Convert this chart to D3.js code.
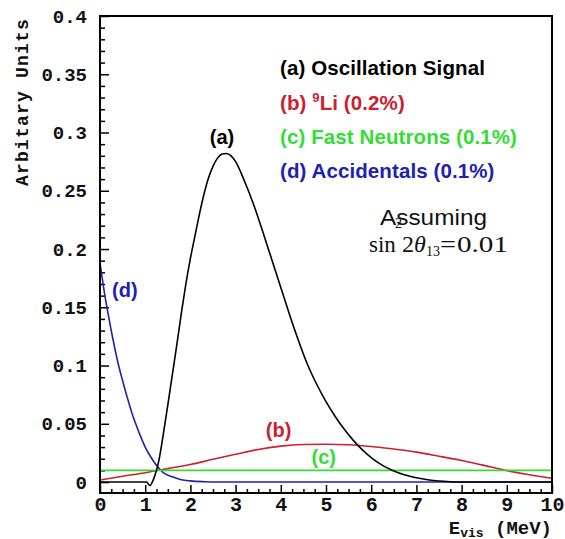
<!DOCTYPE html>
<html><head><meta charset="utf-8">
<script src="https://cdn.jsdelivr.net/npm/d3@7"></script>
<style>body{margin:0;background:#fff}</style>
</head><body>
<svg id="c" width="565" height="539"></svg>
<script>
// ---- data ----
const xTicks = [0,1,2,3,4,5,6,7,8,9,10];
const xTickLabels = ["0","1","2","3","4","5","6","7","8","9","10"];
const yTicks = [0,0.05,0.1,0.15,0.2,0.25,0.3,0.35,0.4];
const yTickLabels = ["0","0.05","0.1","0.15","0.2","0.25","0.3","0.35","0.4"];

const signalE = [0,1.03,1.1,1.2,1.3,1.4,1.5,1.6,1.7,1.8,1.9,2.0,2.1,2.2,2.3,2.4,2.5,2.6,2.7,2.8,2.9,3.0,3.2,3.4,3.6,3.8,4.0,4.2,4.4,4.6,4.8,5.0,5.2,5.4,5.6,5.8,6.0,6.25,6.5,6.75,7.0,7.25,7.5,7.75,8.0,10];
const signalY = [0,0,-0.003,0.004,0.018,0.041,0.066,0.092,0.118,0.145,0.170,0.192,0.211,0.230,0.247,0.261,0.271,0.278,0.2815,0.282,0.280,0.275,0.258,0.238,0.215,0.191,0.167,0.143,0.1205,0.100,0.0835,0.069,0.0565,0.0455,0.036,0.0278,0.021,0.0143,0.0095,0.006,0.0037,0.002,0.0009,0.0003,0,0];

const li9E = [0,0.5,1,1.5,2,2.5,3,3.5,4,4.5,5,5.5,6,6.5,7,7.5,8,8.5,9,9.5,10];
const li9Y = [0.0018,0.005,0.008,0.0115,0.0150,0.0195,0.0238,0.0280,0.0308,0.0322,0.0325,0.0320,0.0305,0.0283,0.0257,0.0222,0.0185,0.0143,0.0098,0.0063,0.0032];

const fastE = [0,10];
const fastY = [0.01,0.01];

const accE = [0,0.1,0.2,0.3,0.4,0.5,0.6,0.7,0.8,0.9,1.0,1.1,1.2,1.3,1.4,1.6,1.8,2.0,2.3,2.6,10];
const accY = [0.188,0.162,0.140,0.120,0.102,0.087,0.073,0.060,0.049,0.039,0.030,0.023,0.017,0.012,0.008,0.0045,0.002,0.001,0.0003,0,0];

const legendLabels = ["(a) Oscillation Signal","(b) ","(c) Fast Neutrons (0.1%)","(d) Accidentals (0.1%)"];
const colors = {a:"#000000", b:"#cc2030", c:"#33dd33", d:"#2121b0"};

// ---- chart ----
const svg = d3.select("#c");
const L=100,R=552,T=16,B=493;
const x = d3.scaleLinear().domain([0,10]).range([L,R]);
const y = d3.scaleLinear().domain([-0.0094,0.4]).range([B,T]);

svg.append("defs").append("clipPath").attr("id","clip")
  .append("rect").attr("x",L).attr("y",T).attr("width",R-L).attr("height",B-T);

const monoFont = "'Liberation Mono','DejaVu Sans Mono',monospace";
const sansFont = "'Liberation Sans',Arial,sans-serif";

// minor ticks
const xMinor = d3.range(0,10.0001,0.25).filter(v=>Math.abs(v-Math.round(v))>1e-6);
const yMinor = d3.range(0,0.4001,0.01).filter(v=>Math.abs(v*20-Math.round(v*20))>1e-6);

const gx = svg.append("g").attr("transform",`translate(0,${B})`)
  .call(d3.axisBottom(x).tickValues(xTicks).tickFormat((d,i)=>xTickLabels[i]).tickSize(-8).tickPadding(4));
gx.select(".domain").remove();
gx.selectAll("line").attr("stroke","#000").attr("stroke-width",1.5);
gx.selectAll("text").attr("font-family",monoFont).attr("font-weight","bold").attr("font-size",20).attr("fill","#111");

const gxm = svg.append("g").attr("transform",`translate(0,${B})`)
  .call(d3.axisBottom(x).tickValues(xMinor).tickFormat("").tickSize(-4));
gxm.select(".domain").remove();
gxm.selectAll("line").attr("stroke","#000").attr("stroke-width",1.5);

const gy = svg.append("g").attr("transform",`translate(${L},0)`)
  .call(d3.axisLeft(y).tickValues(yTicks).tickFormat((d,i)=>yTickLabels[i]).tickSize(-9).tickPadding(13));
gy.select(".domain").remove();
gy.selectAll("line").attr("stroke","#000").attr("stroke-width",1.5);
gy.selectAll("text").attr("font-family",monoFont).attr("font-weight","bold").attr("font-size",19).attr("fill","#111");

const gym = svg.append("g").attr("transform",`translate(${L},0)`)
  .call(d3.axisLeft(y).tickValues(yMinor).tickFormat("").tickSize(-5));
gym.select(".domain").remove();
gym.selectAll("line").attr("stroke","#000").attr("stroke-width",1.5);

// curves
const line = d3.line().x(d=>x(d[0])).y(d=>y(d[1])).curve(d3.curveMonotoneX);
const series = [
  {E:accE,Y:accY,c:colors.d},
  {E:li9E,Y:li9Y,c:colors.b},
  {E:fastE,Y:fastY,c:colors.c},
  {E:signalE,Y:signalY,c:colors.a}
];
const gc = svg.append("g").attr("clip-path","url(#clip)");
series.forEach(s=>{
  gc.append("path").datum(s.E.map((e,i)=>[e,s.Y[i]]))
    .attr("d",line).attr("fill","none").attr("stroke",s.c).attr("stroke-width",1.6);
});

// frame
svg.append("rect").attr("x",L).attr("y",T).attr("width",R-L).attr("height",B-T)
  .attr("fill","none").attr("stroke","#000").attr("stroke-width",2);

// axis titles
svg.append("text").attr("transform","translate(28,102) rotate(-90)")
  .attr("text-anchor","middle").attr("font-family",monoFont).attr("font-weight","bold")
  .attr("font-size",18).attr("letter-spacing",1.2).attr("fill","#111").text("Arbitary Units");

const xt = svg.append("text").attr("x",552).attr("y",534).attr("text-anchor","end")
  .attr("font-family",monoFont).attr("font-weight","bold").attr("font-size",19).attr("fill","#111");
xt.append("tspan").text("E");
xt.append("tspan").attr("font-size",13).attr("dy",3).text("vis");
xt.append("tspan").attr("dy",-3).text(" (MeV)");

// legend
const lx = 280;
const lg = svg.append("g").attr("font-family",sansFont).attr("font-weight","bold").attr("font-size",20.5).attr("letter-spacing",0.1);
lg.append("text").attr("x",lx).attr("y",75).attr("fill",colors.a).text(legendLabels[0]);
const tb = lg.append("text").attr("x",lx).attr("y",110).attr("fill",colors.b);
tb.append("tspan").text(legendLabels[1]);
tb.append("tspan").attr("font-size",13).attr("dy",-8).text("9");
tb.append("tspan").attr("dy",8).text("Li (0.2%)");
lg.append("text").attr("x",lx).attr("y",144).attr("fill",colors.c).text(legendLabels[2]);
lg.append("text").attr("x",lx).attr("y",178).attr("fill",colors.d).text(legendLabels[3]);

// curve labels
const cl = svg.append("g").attr("font-family",sansFont).attr("font-weight","bold").attr("font-size",20);
cl.append("text").attr("x",x(2.7)).attr("y",144).attr("text-anchor","middle").attr("fill",colors.a).text("(a)");
cl.append("text").attr("x",x(3.95)).attr("y",437).attr("text-anchor","middle").attr("fill",colors.b).text("(b)");
cl.append("text").attr("x",x(4.95)).attr("y",464).attr("text-anchor","middle").attr("fill",colors.c).text("(c)");
cl.append("text").attr("x",x(0.55)).attr("y",297).attr("text-anchor","middle").attr("fill",colors.d).text("(d)");

// annotation
svg.append("text").attr("x",380).attr("y",225).attr("font-family",sansFont)
  .attr("font-size",22).attr("textLength",107).attr("lengthAdjust","spacingAndGlyphs")
  .attr("fill","#111").text("Assuming");
const serif = "'Liberation Serif','Times New Roman',serif";
const an = svg.append("g").attr("font-family",serif).attr("fill","#111");
an.append("text").attr("x",369).attr("y",252).attr("font-size",23).text("sin");
an.append("text").attr("x",395).attr("y",228).attr("font-size",14).text("2");
an.append("text").attr("x",402).attr("y",252).attr("font-size",24).text("2");
an.append("text").attr("x",414).attr("y",252).attr("font-size",24).attr("font-style","italic").text("θ");
an.append("text").attr("x",426).attr("y",256).attr("font-size",14).text("13");
an.append("text").attr("x",440).attr("y",252).attr("font-size",24).attr("textLength",16).attr("lengthAdjust","spacingAndGlyphs").text("=");
an.append("text").attr("x",457).attr("y",252).attr("font-size",24).attr("textLength",51).attr("lengthAdjust","spacingAndGlyphs").text("0.01");
</script>
</body></html>
